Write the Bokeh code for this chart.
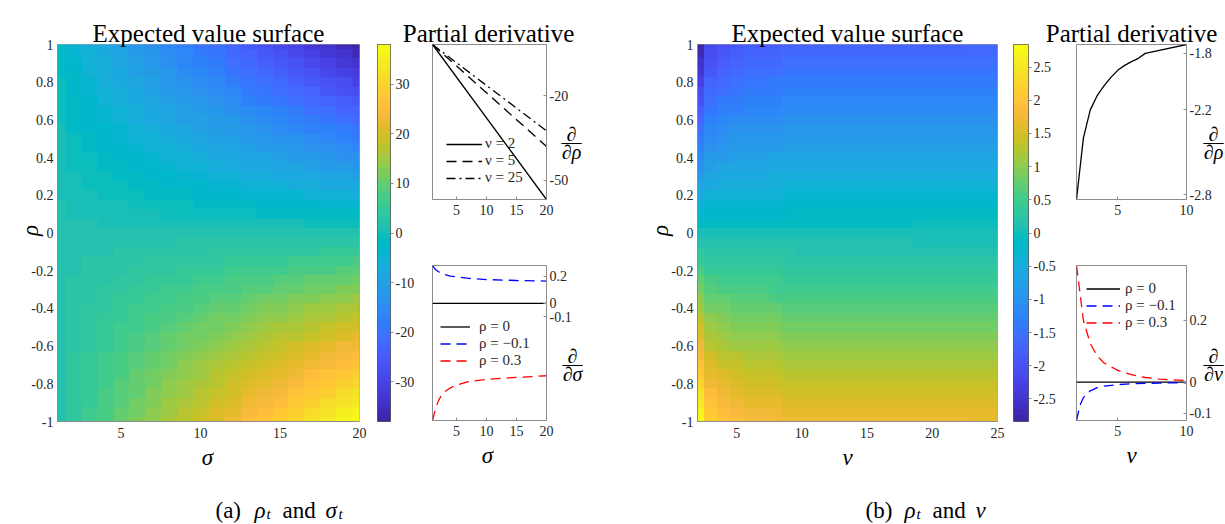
import numpy as np
from bokeh.plotting import figure
from bokeh.models import (Range1d, FixedTicker, Label, Legend, LegendItem,
                          LinearColorMapper, CustomJSTickFormatter)
from bokeh.layouts import row, column
from bokeh.embed import file_html
from bokeh.resources import INLINE

# ------------------------------------------------------------------ data
sigma_grid = [1, 2, 3, 4, 5, 6, 7, 8, 9, 10, 11, 12, 13, 14, 15, 16, 17, 18, 19, 20]
rho_grid = [1.0, 0.95, 0.9, 0.85, 0.8, 0.75, 0.7, 0.65, 0.6, 0.55, 0.5, 0.45, 0.4, 0.35, 0.3,
            0.25, 0.2, 0.15, 0.1, 0.05, 0.0, -0.05, -0.1, -0.15, -0.2, -0.25, -0.3, -0.35, -0.4,
            -0.45, -0.5, -0.55, -0.6, -0.65, -0.7, -0.75, -0.8, -0.85, -0.9, -0.95, -1.0]
# expected value surface (a): rows follow rho_grid (top to bottom), columns follow sigma_grid
surface_a = [
    [-1.9, -4.1, -6.1, -8.1, -10.0, -11.9, -13.8, -15.7, -17.6, -19.4, -21.3, -23.1, -25.0, -26.8, -28.7, -30.5, -32.4, -34.2, -36.1, -37.9],
    [-1.6, -3.7, -5.6, -7.5, -9.3, -11.1, -12.9, -14.7, -16.5, -18.2, -20.0, -21.7, -23.6, -25.3, -27.1, -28.8, -30.6, -32.3, -34.1, -35.8],
    [-1.4, -3.4, -5.2, -7.0, -8.7, -10.4, -12.1, -13.8, -15.5, -17.2, -18.9, -20.5, -22.2, -23.8, -25.5, -27.2, -28.9, -30.5, -32.2, -33.8],
    [-1.2, -3.1, -4.8, -6.5, -8.1, -9.7, -11.3, -12.9, -14.6, -16.1, -17.7, -19.2, -20.9, -22.4, -24.0, -25.5, -27.1, -28.7, -30.3, -31.8],
    [-1.0, -2.8, -4.4, -6.0, -7.5, -9.0, -10.5, -12.1, -13.6, -15.0, -16.5, -18.0, -19.5, -20.9, -22.5, -23.9, -25.4, -26.9, -28.4, -29.8],
    [-0.7, -2.4, -3.9, -5.4, -6.8, -8.2, -9.7, -11.1, -12.5, -13.9, -15.3, -16.6, -18.1, -19.4, -20.8, -22.2, -23.6, -25.0, -26.4, -27.7],
    [-0.5, -2.1, -3.5, -4.9, -6.2, -7.5, -8.9, -10.2, -11.5, -12.8, -14.1, -15.4, -16.7, -18.0, -19.3, -20.6, -21.9, -23.1, -24.5, -25.7],
    [-0.3, -1.8, -3.1, -4.4, -5.6, -6.8, -8.1, -9.3, -10.5, -11.7, -12.9, -14.1, -15.4, -16.5, -17.8, -18.9, -20.2, -21.3, -22.6, -23.7],
    [-0.1, -1.5, -2.7, -3.9, -5.0, -6.1, -7.3, -8.4, -9.6, -10.6, -11.8, -12.9, -14.0, -15.1, -16.2, -17.3, -18.4, -19.5, -20.7, -21.7],
    [0.0, -1.3, -2.4, -3.5, -4.5, -5.5, -6.6, -7.6, -8.7, -9.7, -10.7, -11.7, -12.8, -13.7, -14.8, -15.8, -16.8, -17.8, -18.9, -19.8],
    [0.1, -1.0, -2.0, -3.0, -3.9, -4.9, -5.8, -6.8, -7.7, -8.6, -9.6, -10.5, -11.4, -12.3, -13.3, -14.2, -15.1, -16.0, -17.0, -17.9],
    [0.3, -0.6, -1.5, -2.4, -3.3, -4.2, -5.0, -5.9, -6.7, -7.5, -8.4, -9.2, -10.1, -10.9, -11.7, -12.5, -13.4, -14.2, -15.0, -15.9],
    [0.5, -0.3, -1.1, -1.9, -2.7, -3.5, -4.2, -5.0, -5.7, -6.5, -7.2, -7.9, -8.7, -9.4, -10.2, -10.9, -11.7, -12.4, -13.1, -13.9],
    [0.6, -0.1, -0.8, -1.5, -2.2, -2.9, -3.5, -4.2, -4.9, -5.5, -6.2, -6.8, -7.5, -8.1, -8.7, -9.4, -10.0, -10.7, -11.3, -12.0],
    [0.8, 0.2, -0.4, -1.0, -1.6, -2.2, -2.7, -3.3, -3.9, -4.4, -5.0, -5.5, -6.1, -6.6, -7.2, -7.8, -8.3, -8.9, -9.4, -10.0],
    [0.9, 0.4, -0.1, -0.6, -1.1, -1.6, -2.1, -2.5, -3.0, -3.5, -3.9, -4.4, -4.9, -5.3, -5.8, -6.2, -6.7, -7.2, -7.6, -8.1],
    [1.0, 0.6, 0.2, -0.2, -0.6, -1.0, -1.4, -1.7, -2.1, -2.5, -2.9, -3.2, -3.6, -4.0, -4.3, -4.7, -5.1, -5.4, -5.8, -6.2],
    [1.2, 0.9, 0.6, 0.3, 0.0, -0.3, -0.6, -0.9, -1.1, -1.4, -1.7, -2.0, -2.3, -2.5, -2.8, -3.1, -3.4, -3.6, -3.9, -4.2],
    [1.3, 1.1, 0.9, 0.7, 0.5, 0.3, 0.1, -0.1, -0.3, -0.4, -0.6, -0.8, -1.0, -1.2, -1.4, -1.6, -1.7, -1.9, -2.1, -2.3],
    [1.4, 1.3, 1.2, 1.1, 1.0, 0.9, 0.8, 0.7, 0.6, 0.5, 0.4, 0.3, 0.2, 0.2, 0.1, 0.0, -0.1, -0.2, -0.3, -0.4],
    [1.5, 1.5, 1.5, 1.5, 1.5, 1.5, 1.5, 1.5, 1.5, 1.5, 1.5, 1.5, 1.5, 1.5, 1.5, 1.5, 1.5, 1.5, 1.5, 1.5],
    [1.6, 1.7, 1.8, 1.9, 2.0, 2.1, 2.2, 2.3, 2.4, 2.5, 2.6, 2.7, 2.8, 2.8, 2.9, 3.0, 3.1, 3.2, 3.3, 3.4],
    [1.7, 1.9, 2.1, 2.3, 2.5, 2.7, 2.9, 3.1, 3.3, 3.4, 3.6, 3.8, 4.0, 4.2, 4.4, 4.6, 4.7, 4.9, 5.1, 5.3],
    [1.8, 2.1, 2.4, 2.7, 3.0, 3.3, 3.6, 3.9, 4.1, 4.4, 4.7, 5.0, 5.3, 5.5, 5.8, 6.1, 6.4, 6.6, 6.9, 7.2],
    [1.8, 2.2, 2.6, 3.0, 3.4, 3.8, 4.2, 4.5, 4.9, 5.3, 5.7, 6.0, 6.4, 6.8, 7.1, 7.5, 7.9, 8.2, 8.6, 9.0],
    [1.9, 2.4, 2.9, 3.4, 3.9, 4.4, 4.9, 5.3, 5.8, 6.3, 6.7, 7.2, 7.7, 8.1, 8.6, 9.0, 9.5, 10.0, 10.4, 10.9],
    [2.0, 2.6, 3.2, 3.8, 4.4, 5.0, 5.5, 6.1, 6.7, 7.2, 7.8, 8.3, 8.9, 9.4, 10.0, 10.6, 11.1, 11.7, 12.2, 12.8],
    [2.0, 2.7, 3.4, 4.1, 4.8, 5.5, 6.1, 6.8, 7.5, 8.1, 8.8, 9.4, 10.1, 10.7, 11.3, 12.0, 12.6, 13.3, 13.9, 14.6],
    [2.1, 2.9, 3.7, 4.5, 5.3, 6.1, 6.8, 7.6, 8.3, 9.1, 9.8, 10.5, 11.3, 12.0, 12.8, 13.5, 14.3, 15.0, 15.7, 16.5],
    [2.1, 3.0, 3.9, 4.8, 5.7, 6.6, 7.4, 8.3, 9.1, 9.9, 10.8, 11.6, 12.5, 13.3, 14.1, 14.9, 15.8, 16.6, 17.4, 18.3],
    [2.1, 3.2, 4.2, 5.2, 6.1, 7.1, 8.0, 9.0, 9.9, 10.8, 11.8, 12.7, 13.6, 14.5, 15.5, 16.4, 17.3, 18.2, 19.2, 20.1],
    [2.0, 3.3, 4.4, 5.5, 6.5, 7.5, 8.6, 9.6, 10.7, 11.7, 12.7, 13.7, 14.8, 15.7, 16.8, 17.8, 18.8, 19.8, 20.9, 21.8],
    [2.1, 3.5, 4.7, 5.9, 7.0, 8.1, 9.3, 10.4, 11.6, 12.6, 13.8, 14.9, 16.0, 17.1, 18.2, 19.3, 20.4, 21.5, 22.7, 23.7],
    [2.1, 3.6, 4.9, 6.2, 7.4, 8.6, 9.9, 11.1, 12.3, 13.5, 14.7, 15.9, 17.2, 18.3, 19.6, 20.7, 22.0, 23.1, 24.4, 25.5],
    [2.1, 3.7, 5.1, 6.5, 7.8, 9.1, 10.5, 11.8, 13.1, 14.4, 15.7, 17.0, 18.3, 19.6, 20.9, 22.2, 23.5, 24.7, 26.1, 27.3],
    [2.1, 3.8, 5.3, 6.8, 8.2, 9.6, 11.1, 12.5, 13.9, 15.3, 16.7, 18.0, 19.5, 20.8, 22.2, 23.6, 25.0, 26.4, 27.8, 29.1],
    [2.0, 3.8, 5.4, 7.0, 8.5, 10.0, 11.5, 13.1, 14.6, 16.0, 17.5, 19.0, 20.5, 21.9, 23.5, 24.9, 26.4, 27.9, 29.4, 30.8],
    [2.0, 3.9, 5.6, 7.3, 8.9, 10.5, 12.1, 13.7, 15.4, 16.9, 18.5, 20.0, 21.7, 23.2, 24.8, 26.3, 27.9, 29.5, 31.1, 32.6],
    [2.0, 4.0, 5.8, 7.6, 9.3, 11.0, 12.7, 14.4, 16.1, 17.8, 19.5, 21.1, 22.8, 24.4, 26.1, 27.8, 29.5, 31.1, 32.8, 34.4],
    [2.0, 4.1, 6.0, 7.9, 9.7, 11.5, 13.3, 15.1, 16.9, 18.6, 20.4, 22.1, 24.0, 25.7, 27.5, 29.2, 31.0, 32.7, 34.5, 36.2],
    [1.9, 4.1, 6.1, 8.1, 10.0, 11.9, 13.8, 15.7, 17.6, 19.4, 21.3, 23.1, 25.0, 26.8, 28.7, 30.5, 32.4, 34.2, 36.1, 37.9],
]
nu_grid = [2, 3, 4, 5, 6, 7, 8, 9, 10, 11, 12, 13, 14, 15, 16, 17, 18, 19, 20, 21, 22, 23, 24, 25]
# expected value surface (b): rows follow rho_grid, columns follow nu_grid
surface_b = [
    [-2.83, -2.20, -2.02, -1.92, -1.86, -1.80, -1.78, -1.76, -1.74, -1.73, -1.72, -1.72, -1.71, -1.71, -1.70, -1.70, -1.70, -1.69, -1.69, -1.69, -1.69, -1.68, -1.68, -1.68],
    [-2.69, -2.09, -1.92, -1.82, -1.77, -1.71, -1.69, -1.67, -1.65, -1.64, -1.63, -1.63, -1.62, -1.62, -1.62, -1.62, -1.62, -1.61, -1.61, -1.61, -1.61, -1.60, -1.60, -1.60],
    [-2.55, -1.98, -1.82, -1.73, -1.67, -1.62, -1.60, -1.58, -1.57, -1.56, -1.55, -1.55, -1.54, -1.54, -1.53, -1.53, -1.53, -1.52, -1.52, -1.52, -1.52, -1.51, -1.51, -1.51],
    [-2.41, -1.87, -1.72, -1.63, -1.58, -1.53, -1.51, -1.50, -1.48, -1.47, -1.46, -1.46, -1.45, -1.45, -1.45, -1.45, -1.45, -1.44, -1.44, -1.44, -1.44, -1.43, -1.43, -1.43],
    [-2.26, -1.76, -1.62, -1.54, -1.49, -1.44, -1.42, -1.41, -1.39, -1.38, -1.38, -1.38, -1.37, -1.37, -1.36, -1.36, -1.36, -1.35, -1.35, -1.35, -1.35, -1.34, -1.34, -1.34],
    [-2.12, -1.65, -1.52, -1.44, -1.40, -1.35, -1.34, -1.32, -1.31, -1.30, -1.29, -1.29, -1.28, -1.28, -1.28, -1.28, -1.28, -1.27, -1.27, -1.27, -1.27, -1.26, -1.26, -1.26],
    [-1.98, -1.54, -1.41, -1.34, -1.30, -1.26, -1.25, -1.23, -1.22, -1.21, -1.20, -1.20, -1.20, -1.20, -1.19, -1.19, -1.19, -1.18, -1.18, -1.18, -1.18, -1.18, -1.18, -1.18],
    [-1.84, -1.43, -1.31, -1.25, -1.21, -1.17, -1.16, -1.14, -1.13, -1.12, -1.12, -1.12, -1.11, -1.11, -1.11, -1.11, -1.11, -1.10, -1.10, -1.10, -1.10, -1.09, -1.09, -1.09],
    [-1.70, -1.32, -1.21, -1.15, -1.12, -1.08, -1.07, -1.06, -1.04, -1.04, -1.03, -1.03, -1.03, -1.03, -1.02, -1.02, -1.02, -1.01, -1.01, -1.01, -1.01, -1.01, -1.01, -1.01],
    [-1.56, -1.21, -1.11, -1.06, -1.02, -0.99, -0.98, -0.97, -0.96, -0.95, -0.95, -0.95, -0.94, -0.94, -0.94, -0.94, -0.94, -0.93, -0.93, -0.93, -0.93, -0.92, -0.92, -0.92],
    [-1.42, -1.10, -1.01, -0.96, -0.93, -0.90, -0.89, -0.88, -0.87, -0.87, -0.86, -0.86, -0.86, -0.86, -0.85, -0.85, -0.85, -0.85, -0.85, -0.85, -0.85, -0.84, -0.84, -0.84],
    [-1.27, -0.99, -0.91, -0.86, -0.84, -0.81, -0.80, -0.79, -0.78, -0.78, -0.77, -0.77, -0.77, -0.77, -0.77, -0.77, -0.77, -0.76, -0.76, -0.76, -0.76, -0.76, -0.76, -0.76],
    [-1.13, -0.88, -0.81, -0.77, -0.74, -0.72, -0.71, -0.70, -0.70, -0.69, -0.69, -0.69, -0.68, -0.68, -0.68, -0.68, -0.68, -0.68, -0.68, -0.68, -0.68, -0.67, -0.67, -0.67],
    [-0.99, -0.77, -0.71, -0.67, -0.65, -0.63, -0.62, -0.62, -0.61, -0.61, -0.60, -0.60, -0.60, -0.60, -0.60, -0.60, -0.60, -0.59, -0.59, -0.59, -0.59, -0.59, -0.59, -0.59],
    [-0.85, -0.66, -0.61, -0.58, -0.56, -0.54, -0.53, -0.53, -0.52, -0.52, -0.52, -0.52, -0.51, -0.51, -0.51, -0.51, -0.51, -0.51, -0.51, -0.51, -0.51, -0.50, -0.50, -0.50],
    [-0.71, -0.55, -0.51, -0.48, -0.47, -0.45, -0.45, -0.44, -0.44, -0.43, -0.43, -0.43, -0.43, -0.43, -0.43, -0.43, -0.43, -0.42, -0.42, -0.42, -0.42, -0.42, -0.42, -0.42],
    [-0.57, -0.44, -0.40, -0.38, -0.37, -0.36, -0.36, -0.35, -0.35, -0.35, -0.34, -0.34, -0.34, -0.34, -0.34, -0.34, -0.34, -0.34, -0.34, -0.34, -0.34, -0.34, -0.34, -0.34],
    [-0.42, -0.33, -0.30, -0.29, -0.28, -0.27, -0.27, -0.26, -0.26, -0.26, -0.26, -0.26, -0.26, -0.26, -0.26, -0.26, -0.26, -0.25, -0.25, -0.25, -0.25, -0.25, -0.25, -0.25],
    [-0.28, -0.22, -0.20, -0.19, -0.19, -0.18, -0.18, -0.18, -0.17, -0.17, -0.17, -0.17, -0.17, -0.17, -0.17, -0.17, -0.17, -0.17, -0.17, -0.17, -0.17, -0.17, -0.17, -0.17],
    [-0.14, -0.11, -0.10, -0.10, -0.09, -0.09, -0.09, -0.09, -0.09, -0.09, -0.09, -0.09, -0.09, -0.09, -0.09, -0.09, -0.09, -0.08, -0.08, -0.08, -0.08, -0.08, -0.08, -0.08],
    [0.00, 0.00, 0.00, 0.00, 0.00, 0.00, 0.00, 0.00, 0.00, 0.00, 0.00, 0.00, 0.00, 0.00, 0.00, 0.00, 0.00, 0.00, 0.00, 0.00, 0.00, 0.00, 0.00, 0.00],
    [0.14, 0.11, 0.10, 0.10, 0.09, 0.09, 0.09, 0.09, 0.09, 0.09, 0.09, 0.09, 0.09, 0.09, 0.09, 0.09, 0.09, 0.08, 0.08, 0.08, 0.08, 0.08, 0.08, 0.08],
    [0.28, 0.22, 0.20, 0.19, 0.19, 0.18, 0.18, 0.18, 0.17, 0.17, 0.17, 0.17, 0.17, 0.17, 0.17, 0.17, 0.17, 0.17, 0.17, 0.17, 0.17, 0.17, 0.17, 0.17],
    [0.42, 0.33, 0.30, 0.29, 0.28, 0.27, 0.27, 0.26, 0.26, 0.26, 0.26, 0.26, 0.26, 0.26, 0.26, 0.26, 0.26, 0.25, 0.25, 0.25, 0.25, 0.25, 0.25, 0.25],
    [0.57, 0.44, 0.40, 0.38, 0.37, 0.36, 0.36, 0.35, 0.35, 0.35, 0.34, 0.34, 0.34, 0.34, 0.34, 0.34, 0.34, 0.34, 0.34, 0.34, 0.34, 0.34, 0.34, 0.34],
    [0.71, 0.55, 0.51, 0.48, 0.47, 0.45, 0.45, 0.44, 0.44, 0.43, 0.43, 0.43, 0.43, 0.43, 0.43, 0.43, 0.43, 0.42, 0.42, 0.42, 0.42, 0.42, 0.42, 0.42],
    [0.85, 0.66, 0.61, 0.58, 0.56, 0.54, 0.53, 0.53, 0.52, 0.52, 0.52, 0.52, 0.51, 0.51, 0.51, 0.51, 0.51, 0.51, 0.51, 0.51, 0.51, 0.50, 0.50, 0.50],
    [0.99, 0.77, 0.71, 0.67, 0.65, 0.63, 0.62, 0.62, 0.61, 0.61, 0.60, 0.60, 0.60, 0.60, 0.60, 0.60, 0.60, 0.59, 0.59, 0.59, 0.59, 0.59, 0.59, 0.59],
    [1.13, 0.88, 0.81, 0.77, 0.74, 0.72, 0.71, 0.70, 0.70, 0.69, 0.69, 0.69, 0.68, 0.68, 0.68, 0.68, 0.68, 0.68, 0.68, 0.68, 0.68, 0.67, 0.67, 0.67],
    [1.27, 0.99, 0.91, 0.86, 0.84, 0.81, 0.80, 0.79, 0.78, 0.78, 0.77, 0.77, 0.77, 0.77, 0.77, 0.77, 0.77, 0.76, 0.76, 0.76, 0.76, 0.76, 0.76, 0.76],
    [1.42, 1.10, 1.01, 0.96, 0.93, 0.90, 0.89, 0.88, 0.87, 0.87, 0.86, 0.86, 0.86, 0.86, 0.85, 0.85, 0.85, 0.85, 0.85, 0.85, 0.85, 0.84, 0.84, 0.84],
    [1.56, 1.21, 1.11, 1.06, 1.02, 0.99, 0.98, 0.97, 0.96, 0.95, 0.95, 0.95, 0.94, 0.94, 0.94, 0.94, 0.94, 0.93, 0.93, 0.93, 0.93, 0.92, 0.92, 0.92],
    [1.70, 1.32, 1.21, 1.15, 1.12, 1.08, 1.07, 1.06, 1.04, 1.04, 1.03, 1.03, 1.03, 1.03, 1.02, 1.02, 1.02, 1.01, 1.01, 1.01, 1.01, 1.01, 1.01, 1.01],
    [1.84, 1.43, 1.31, 1.25, 1.21, 1.17, 1.16, 1.14, 1.13, 1.12, 1.12, 1.12, 1.11, 1.11, 1.11, 1.11, 1.11, 1.10, 1.10, 1.10, 1.10, 1.09, 1.09, 1.09],
    [1.98, 1.54, 1.41, 1.34, 1.30, 1.26, 1.25, 1.23, 1.22, 1.21, 1.20, 1.20, 1.20, 1.20, 1.19, 1.19, 1.19, 1.18, 1.18, 1.18, 1.18, 1.18, 1.18, 1.18],
    [2.12, 1.65, 1.52, 1.44, 1.40, 1.35, 1.34, 1.32, 1.31, 1.30, 1.29, 1.29, 1.28, 1.28, 1.28, 1.28, 1.28, 1.27, 1.27, 1.27, 1.27, 1.26, 1.26, 1.26],
    [2.26, 1.76, 1.62, 1.54, 1.49, 1.44, 1.42, 1.41, 1.39, 1.38, 1.38, 1.38, 1.37, 1.37, 1.36, 1.36, 1.36, 1.35, 1.35, 1.35, 1.35, 1.34, 1.34, 1.34],
    [2.41, 1.87, 1.72, 1.63, 1.58, 1.53, 1.51, 1.50, 1.48, 1.47, 1.46, 1.46, 1.45, 1.45, 1.45, 1.45, 1.45, 1.44, 1.44, 1.44, 1.44, 1.43, 1.43, 1.43],
    [2.55, 1.98, 1.82, 1.73, 1.67, 1.62, 1.60, 1.58, 1.57, 1.56, 1.55, 1.55, 1.54, 1.54, 1.53, 1.53, 1.53, 1.52, 1.52, 1.52, 1.52, 1.51, 1.51, 1.51],
    [2.69, 2.09, 1.92, 1.82, 1.77, 1.71, 1.69, 1.67, 1.65, 1.64, 1.63, 1.63, 1.62, 1.62, 1.62, 1.62, 1.62, 1.61, 1.61, 1.61, 1.61, 1.60, 1.60, 1.60],
    [2.83, 2.20, 2.02, 1.92, 1.86, 1.80, 1.78, 1.76, 1.74, 1.73, 1.72, 1.72, 1.71, 1.71, 1.70, 1.70, 1.70, 1.69, 1.69, 1.69, 1.69, 1.68, 1.68, 1.68],
]
cbar_a_range = [-38.0, 38.0]
cbar_a_ticks = [-30, -20, -10, 0, 10, 20, 30]
cbar_b_range = [-2.84, 2.84]
cbar_b_ticks = [-2.5, -2, -1.5, -1, -0.5, 0, 0.5, 1, 1.5, 2, 2.5]
heat_a_xticks = [5, 10, 15, 20]
heat_b_xticks = [5, 10, 15, 20, 25]
heat_yticks = [-1, -0.8, -0.6, -0.4, -0.2, 0, 0.2, 0.4, 0.6, 0.8, 1]

# (a) partial derivative wrt rho, vs sigma
drho_sigma = [1, 20]
drho_nu2 = [-1.9, -56.8]
drho_nu5 = [-1.9, -38.0]
drho_nu25 = [-1.9, -32.5]
drho_a_yticks = [-50, -20]
# (a) partial derivative wrt sigma, vs sigma
dsig_sigma = [1, 1.5, 2, 2.5, 3, 4, 5, 7, 10, 15, 20]
dsig_rho0 = [0, 0, 0, 0, 0, 0, 0, 0, 0, 0, 0]
dsig_rho_m01 = [0.28, 0.25, 0.234, 0.222, 0.213, 0.202, 0.195, 0.185, 0.176, 0.169, 0.165]
dsig_rho_03 = [-0.867, -0.78, -0.72, -0.68, -0.655, -0.625, -0.605, -0.58, -0.563, -0.548, -0.536]
dsig_yticks = [-0.1, 0, 0.2]
# (b) partial derivative wrt rho, vs nu
drho_nu = [2, 2.5, 3, 3.5, 4, 4.5, 5, 5.5, 6, 6.5, 7, 10]
drho_b_vals = [-2.835, -2.40, -2.20, -2.10, -2.03, -1.97, -1.92, -1.885, -1.858, -1.835, -1.80, -1.737]
drho_b_yticks = [-2.8, -2.2, -1.8]
# (b) partial derivative wrt nu, vs nu
dnu_nu = [2, 2.25, 2.5, 3, 3.5, 4, 5, 6, 7, 8, 10]
dnu_rho0 = [0, 0, 0, 0, 0, 0, 0, 0, 0, 0, 0]
dnu_rho_m01 = [-0.124, -0.075, -0.05, -0.028, -0.018, -0.013, -0.008, -0.005, -0.004, -0.003, -0.002]
dnu_rho_03 = [0.377, 0.29, 0.20, 0.125, 0.085, 0.062, 0.038, 0.024, 0.015, 0.010, 0.005]
dnu_yticks = [-0.1, 0, 0.2]

# ------------------------------------------------------------------ style
FONT = "Liberation Serif"
PARULA_RGB = [
    (0.2422, 0.1504, 0.6603), (0.2504, 0.1650, 0.7076), (0.2578, 0.1818, 0.7511), (0.2647, 0.1978, 0.7952),
    (0.2706, 0.2147, 0.8364), (0.2751, 0.2342, 0.8710), (0.2783, 0.2559, 0.8991), (0.2803, 0.2782, 0.9221),
    (0.2813, 0.3006, 0.9414), (0.2810, 0.3228, 0.9579), (0.2795, 0.3447, 0.9717), (0.2760, 0.3667, 0.9829),
    (0.2699, 0.3892, 0.9906), (0.2602, 0.4123, 0.9952), (0.2440, 0.4358, 0.9988), (0.2206, 0.4603, 0.9973),
    (0.1963, 0.4847, 0.9892), (0.1834, 0.5074, 0.9798), (0.1786, 0.5289, 0.9682), (0.1764, 0.5499, 0.9520),
    (0.1687, 0.5703, 0.9359), (0.1540, 0.5902, 0.9218), (0.1460, 0.6091, 0.9079), (0.1380, 0.6276, 0.8973),
    (0.1248, 0.6459, 0.8883), (0.1113, 0.6635, 0.8763), (0.0952, 0.6798, 0.8598), (0.0689, 0.6948, 0.8394),
    (0.0297, 0.7082, 0.8163), (0.0036, 0.7203, 0.7917), (0.0067, 0.7312, 0.7660), (0.0433, 0.7411, 0.7394),
    (0.0964, 0.7500, 0.7120), (0.1408, 0.7584, 0.6842), (0.1717, 0.7670, 0.6554), (0.1938, 0.7758, 0.6251),
    (0.2161, 0.7843, 0.5923), (0.2470, 0.7918, 0.5567), (0.2906, 0.7973, 0.5188), (0.3406, 0.8008, 0.4789),
    (0.3909, 0.8029, 0.4354), (0.4456, 0.8024, 0.3909), (0.5044, 0.7993, 0.3480), (0.5616, 0.7942, 0.3045),
    (0.6174, 0.7876, 0.2612), (0.6720, 0.7793, 0.2227), (0.7242, 0.7698, 0.1910), (0.7738, 0.7598, 0.1646),
    (0.8203, 0.7498, 0.1535), (0.8634, 0.7406, 0.1596), (0.9035, 0.7330, 0.1774), (0.9393, 0.7288, 0.2100),
    (0.9728, 0.7298, 0.2394), (0.9956, 0.7434, 0.2371), (0.9970, 0.7659, 0.2199), (0.9952, 0.7893, 0.2028),
    (0.9892, 0.8136, 0.1885), (0.9786, 0.8386, 0.1766), (0.9676, 0.8639, 0.1643), (0.9610, 0.8890, 0.1537),
    (0.9597, 0.9135, 0.1423), (0.9628, 0.9373, 0.1265), (0.9691, 0.9606, 0.1060), (0.9769, 0.9839, 0.0805),
]
PARULA = ["#%02x%02x%02x" % tuple(int(round(c * 255)) for c in rgb) for rgb in PARULA_RGB]
FRAME_COL = "#8c8c8c"
TICK_TXT = "#262626"
FMT = "return String(tick);"

W, H = 1225, 524


def style_axis(ax, standoff=4, tick_in=0, tick_out=0):
    ax.major_label_text_font = FONT
    ax.major_label_text_font_size = "14px"
    ax.major_label_text_color = TICK_TXT
    ax.axis_line_color = FRAME_COL
    ax.major_tick_line_color = FRAME_COL
    ax.minor_tick_line_color = None
    ax.major_tick_in = tick_in
    ax.major_tick_out = tick_out
    ax.major_label_standoff = standoff
    ax.formatter = CustomJSTickFormatter(code=FMT)


def heat_fig(width, bl, br, xr, xticks, surface, x0, dw, mapper):
    p = figure(width=width, height=H, x_range=Range1d(*xr), y_range=Range1d(-1, 1),
               output_backend="svg", toolbar_location=None,
               min_border_left=bl, min_border_right=br, min_border_top=44, min_border_bottom=103)
    img = np.flipud(np.array(surface, dtype=float))
    p.image(image=[img], x=x0, y=-1.025, dw=dw, dh=2.05, color_mapper=mapper)
    p.grid.visible = False
    p.outline_line_color = "#a6a6a6"
    p.xaxis.ticker = FixedTicker(ticks=xticks)
    p.yaxis.ticker = FixedTicker(ticks=heat_yticks)
    style_axis(p.xaxis[0], standoff=6)
    style_axis(p.yaxis[0], standoff=4)
    return p


def cbar_fig(width, bl, br, lo, hi, ticks, mapper):
    p = figure(width=width, height=H, x_range=Range1d(0, 1), y_range=Range1d(lo, hi),
               x_axis_location=None, y_axis_location="right",
               output_backend="svg", toolbar_location=None,
               min_border_left=bl, min_border_right=br, min_border_top=44, min_border_bottom=103)
    grad = np.linspace(lo, hi, 256).reshape(-1, 1)
    p.image(image=[grad], x=0, y=lo, dw=1, dh=hi - lo, color_mapper=mapper)
    p.grid.visible = False
    p.outline_line_color = "#595959"
    p.yaxis.ticker = FixedTicker(ticks=ticks)
    style_axis(p.yaxis[0], standoff=2, tick_out=3)
    p.yaxis.axis_line_color = None
    return p


def small_fig(width, height, bl, br, bt, bb, xr, yr, xticks, yticks):
    p = figure(width=width, height=height, x_range=Range1d(*xr), y_range=Range1d(*yr),
               y_axis_location="right", output_backend="svg", toolbar_location=None,
               min_border_left=bl, min_border_right=br, min_border_top=bt, min_border_bottom=bb)
    p.grid.visible = False
    p.outline_line_color = FRAME_COL
    p.xaxis.ticker = FixedTicker(ticks=xticks)
    p.yaxis.ticker = FixedTicker(ticks=yticks)
    style_axis(p.xaxis[0], standoff=5, tick_in=3)
    style_axis(p.yaxis[0], standoff=3, tick_in=3)
    return p


def legend(p, items, loc, gw, gh, standoff):
    leg = Legend(items=[LegendItem(label=lab, renderers=[r]) for lab, r in items],
                 location=loc, padding=0, margin=0, spacing=0, glyph_width=gw, glyph_height=gh,
                 label_height=gh, label_standoff=standoff, border_line_color=None,
                 background_fill_alpha=0, label_text_font=FONT, label_text_font_size="15px",
                 label_text_color="#262626")
    p.add_layout(leg)


map_a = LinearColorMapper(palette=PARULA, low=cbar_a_range[0], high=cbar_a_range[1])
map_b = LinearColorMapper(palette=PARULA, low=cbar_b_range[0], high=cbar_b_range[1])

# ------------------------------------------------------------------ panel (a)
hA = heat_fig(368, 57, 9, (1, 20), heat_a_xticks, surface_a, 0.5, 20, map_a)
cbA = cbar_fig(52, 9, 30, cbar_a_range[0], cbar_a_range[1], cbar_a_ticks, map_a)

sAt = small_fig(210, 232, 12, 84, 44, 33, (1, 20), (-56.8, -1.9), [5, 10, 15, 20], drho_a_yticks)
r1 = sAt.line(drho_sigma, drho_nu2, line_color="black", line_width=1.3)
r2 = sAt.line(drho_sigma, drho_nu5, line_color="black", line_width=1.3, line_dash="10 6")
r3 = sAt.line(drho_sigma, drho_nu25, line_color="black", line_width=1.3, line_dash="9 4 2 4")
legend(sAt, [("\u03bd = 2", r1), ("\u03bd = 5", r2), ("\u03bd = 25", r3)], (14, 13), 36, 16, 3)

sAb = small_fig(210, 292, 12, 84, 33, 104, (1, 20), (-0.867, 0.28), [5, 10, 15, 20], dsig_yticks)
q1 = sAb.line(dsig_sigma, dsig_rho0, line_color="black", line_width=1.3)
q2 = sAb.line(dsig_sigma, dsig_rho_m01, line_color="#0000ff", line_width=1.3, line_dash="10 6")
q3 = sAb.line(dsig_sigma, dsig_rho_03, line_color="#ff0000", line_width=1.3, line_dash="10 6")
legend(sAb, [("\u03c1 = 0", q1), ("\u03c1 = \u22120.1", q2), ("\u03c1 = 0.3", q3)], (8, 51), 30, 17, 9)

# ------------------------------------------------------------------ panel (b)
hB = heat_fig(375, 67, 8, (2, 25), heat_b_xticks, surface_b, 1.5, 24, map_b)
cbB = cbar_fig(60, 8, 37, cbar_b_range[0], cbar_b_range[1], cbar_b_ticks, map_b)

sBt = small_fig(160, 232, 11, 39, 44, 33, (2, 10), (-2.835, -1.737), [5, 10], drho_b_yticks)
sBt.line(drho_nu, drho_b_vals, line_color="black", line_width=1.3)

sBb = small_fig(160, 292, 11, 39, 33, 104, (2, 10), (-0.124, 0.377), [5, 10], dnu_yticks)
u1 = sBb.line(dnu_nu, dnu_rho0, line_color="black", line_width=1.3)
u2 = sBb.line(dnu_nu, dnu_rho_m01, line_color="#0000ff", line_width=1.3, line_dash="10 6")
u3 = sBb.line(dnu_nu, dnu_rho_03, line_color="#ff0000", line_width=1.3, line_dash="10 6")
legend(sBb, [("\u03c1 = 0", u1), ("\u03c1 = \u22120.1", u2), ("\u03c1 = 0.3", u3)], (10, 89), 34, 17, 5)

# ------------------------------------------------------------------ text overlay (page pixels)
ov = figure(width=W, height=H, x_range=Range1d(0, W), y_range=Range1d(0, H),
            x_axis_location=None, y_axis_location=None, output_backend="svg",
            toolbar_location=None, min_border=0)
ov.outline_line_color = None
ov.background_fill_color = None
ov.border_fill_color = None
ov.grid.visible = False
ov.margin = (-H, 0, 0, 0)


def put(gx, gy, text, size, style="normal", align="center", baseline="alphabetic", angle=0.0):
    ov.add_layout(Label(x=gx, y=H - gy, text=text, text_font=FONT, text_font_size=f"{size}px",
                        text_font_style=style, text_align=align, text_baseline=baseline,
                        angle=angle, text_color="#000000"))


def fraction(cx, bar_y, den):
    put(cx, bar_y - 3, "\u2202", 20, style="italic")
    put(cx, bar_y + 5, "\u2014", 20)
    put(cx, bar_y + 15, den, 20, style="italic")


for cx in (208, 847):
    put(cx, 33, "Expected value surface", 25)
for cx in (488, 1131):
    put(cx, 33, "Partial derivative", 25)
for cx in (30, 660):
    put(cx, 230, "\u03c1", 23, style="italic", baseline="middle", angle=np.pi / 2)
put(207, 457, "\u03c3", 23, style="italic", baseline="middle")
put(847, 457, "\u03bd", 23, style="italic", baseline="middle")
put(487, 455, "\u03c3", 23, style="italic", baseline="middle")
put(1131, 455, "\u03bd", 23, style="italic", baseline="middle")
fraction(571, 136, "\u2202\u03c1")
fraction(572, 358, "\u2202\u03c3")
fraction(1213, 136, "\u2202\u03c1")
fraction(1213, 358, "\u2202\u03bd")
# captions
put(215, 510, "(a)", 23, align="left")
put(254, 510, "\u03c1", 23, style="italic", align="left")
put(266, 513, "t", 15, style="italic", align="left")
put(282, 510, "and", 23, align="left")
put(325, 510, "\u03c3", 23, style="italic", align="left")
put(338, 513, "t", 15, style="italic", align="left")
put(865, 510, "(b)", 23, align="left")
put(904, 510, "\u03c1", 23, style="italic", align="left")
put(916, 513, "t", 15, style="italic", align="left")
put(932, 510, "and", 23, align="left")
put(975, 510, "\u03bd", 23, style="italic", align="left")

# ------------------------------------------------------------------ layout
plots = row(hA, cbA, column(sAt, sAb), hB, cbB, column(sBt, sBb))
p = column(plots, ov)

open("out.html", "w").write(file_html(p, INLINE))
